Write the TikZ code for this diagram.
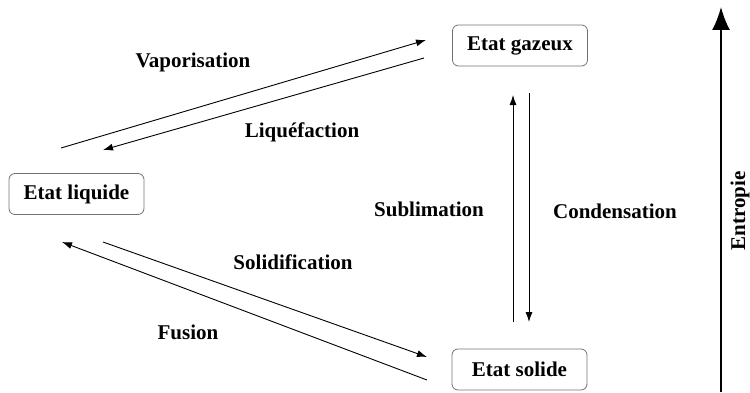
\documentclass[tikz,border=0pt]{standalone}
\usepackage{fontspec}
\setmainfont{Liberation Serif}[BoldFont={Liberation Serif Bold}]
\usepackage{tikz}
\usetikzlibrary{arrows.meta,positioning}

\begin{document}
\begin{tikzpicture}[
  x=1pt, y=1pt,
  font=\fontsize{21}{25}\selectfont\bfseries,
  etat/.style={draw=black!55, line width=0.8pt, rounded corners=6pt, minimum width=135pt, minimum height=41pt, align=center},
  lbl/.style={inner sep=0pt},
  arr/.style={line width=0.9pt, -{Latex[length=10pt, width=7pt]}},
  axe/.style={line width=1.8pt, -{Latex[length=23pt, width=18pt]}}
]
  \useasboundingbox (0,0) rectangle (750,392);

  % etats
  \node[etat] (gaz) at (520,346.5) {Etat gazeux};
  \node[etat] (liq) at (76.5,198) {Etat liquide};
  \node[etat] (sol) at (519.5,22.5) {Etat solide};

  % extremites des fleches
  \coordinate (vap-a) at (61,244);   \coordinate (vap-b) at (426,352);
  \coordinate (lqf-a) at (424,334);  \coordinate (lqf-b) at (103,242);
  \coordinate (sld-a) at (103,150);  \coordinate (sld-b) at (427,35);
  \coordinate (fus-a) at (427,12);   \coordinate (fus-b) at (62,150);
  \coordinate (sub-a) at (513,70);   \coordinate (sub-b) at (513,297);
  \coordinate (cnd-a) at (529,299);  \coordinate (cnd-b) at (529,70);
  \coordinate (ent-a) at (721,0);    \coordinate (ent-b) at (721,385);

  \draw[arr] (vap-a) -- (vap-b);
  \draw[arr] (lqf-a) -- (lqf-b);
  \draw[arr] (sld-a) -- (sld-b);
  \draw[arr] (fus-a) -- (fus-b);
  \draw[arr] (sub-a) -- (sub-b);
  \draw[arr] (cnd-a) -- (cnd-b);
  \draw[axe] (ent-a) -- (ent-b);

  % transitions
  \node[lbl] (vap) at (193,330) {Vaporisation};
  \node[lbl] (lqf) at (302,260) {Liquéfaction};
  \node[lbl] (sub) at (429,183) {Sublimation};
  \node[lbl] (cnd) at (615,181) {Condensation};
  \node[lbl] (sld) at (293,130) {Solidification};
  \node[lbl] (fus) at (188,60) {Fusion};
  \node[lbl, rotate=90] (ent) at (740,181) {Entropie};
\end{tikzpicture}
\end{document}
